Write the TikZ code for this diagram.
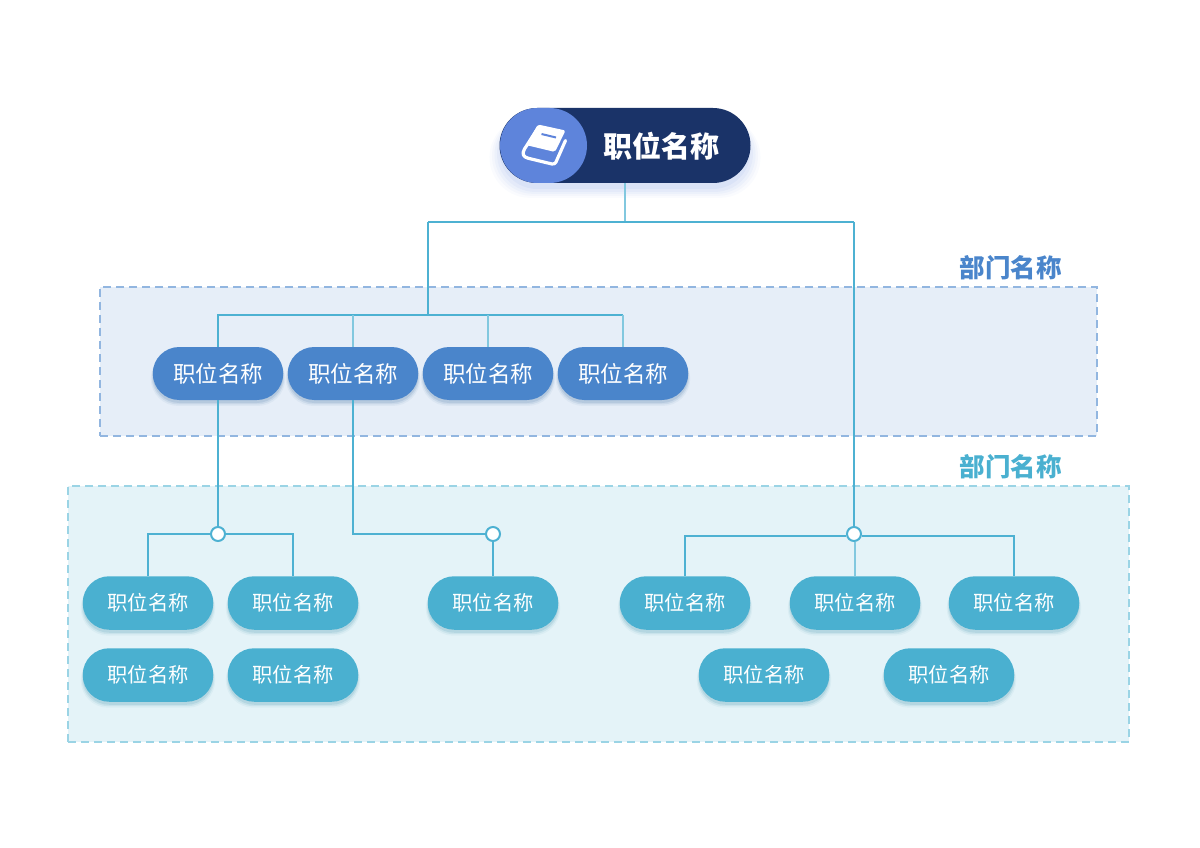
\documentclass[tikz,border=0pt]{standalone}
\usepackage{fontspec}
\setmainfont{Noto Sans CJK SC}
\usetikzlibrary{positioning,shadows}

\definecolor{navy}{HTML}{1A3368}
\definecolor{badgeblue}{HTML}{5E84DB}
\definecolor{deptblue}{HTML}{4A85CB}
\definecolor{staffblue}{HTML}{4AB0D0}
\definecolor{linkblue}{HTML}{4DB1D2}

\tikzset{
  softshadow/.style={
    general shadow={fill=#1,opacity=.03,shadow scale=1.08,shadow yshift=-11pt},
    general shadow={fill=#1,opacity=.04,shadow scale=1.06,shadow yshift=-10pt},
    general shadow={fill=#1,opacity=.05,shadow scale=1.04,shadow yshift=-9pt},
    general shadow={fill=#1,opacity=.06,shadow scale=1.02,shadow yshift=-8pt},
    general shadow={fill=#1,opacity=.07,shadow scale=1.00,shadow yshift=-6pt}},
  smallshadow/.style={
    general shadow={fill=#1,opacity=.06,shadow scale=1.03,shadow yshift=-5pt},
    general shadow={fill=#1,opacity=.10,shadow scale=1.015,shadow yshift=-4pt},
    general shadow={fill=#1,opacity=.14,shadow scale=1.00,shadow yshift=-3pt}},
  rootbox/.style={fill=navy,minimum width=251pt,minimum height=75pt,inner sep=0pt,
    rounded corners=37.5pt,softshadow=badgeblue},
  badge/.style={fill=badgeblue,minimum width=87pt,minimum height=75pt,inner sep=0pt,rounded corners=37.5pt},
  dept/.style={fill=deptblue,text=white,minimum width=130.5pt,minimum height=53pt,inner sep=0pt,
    rounded corners=26.5pt,font=\fontsize{22.5pt}{25pt}\selectfont,smallshadow=deptblue!80!black},
  staff/.style={fill=staffblue,text=white,minimum width=130.5pt,minimum height=53.5pt,inner sep=0pt,
    rounded corners=26.5pt,font=\fontsize{20.3pt}{22pt}\selectfont,smallshadow=staffblue!80!black},
  zone/.style={dashed,dash pattern=on 8pt off 5pt,line width=1.8pt,inner sep=0pt},
  zonetitle/.style={font=\fontsize{25.5pt}{27pt}\selectfont\bfseries},
  link/.style={draw=linkblue,line width=1.2pt},
  stem/.style={draw=linkblue!70,line width=1.2pt},
  joint/.style={circle,draw=linkblue,fill=white,line width=2pt,minimum size=14pt,inner sep=0pt}
}

\begin{document}
\begin{tikzpicture}[x=1pt,y=-1pt,on grid]
   \useasboundingbox (0,0) rectangle (1200,848);

   % zones
   \node[zone,draw=deptblue!60,fill=deptblue!14,minimum width=997pt,minimum height=149pt] (zone_1) at (598.5,361.5) {};
   \node[zone,draw=staffblue!55,fill=staffblue!15,minimum width=1061pt,minimum height=256pt] (zone_2) at (598.5,614) {};
   \node[zonetitle,text=deptblue] (title_1) at (1010.5,268) {部门名称};
   \node[zonetitle,text=staffblue] (title_2) at (1010.5,467) {部门名称};

   \coordinate (bus_l) at (428,222);
   \coordinate (bus_r) at (854,222);
   \coordinate (bus_d) at (428,315);

   % top
   \node[rootbox] (root) at (625,145.5) {};
   \node[badge] (icon) at (543.5,145.5) {};
   \node[text=white,font=\fontsize{29pt}{31pt}\selectfont\bfseries] (root_text) at (661,146) {职位名称};

   % book
   \draw[white,line width=3.2pt,line join=round,line cap=round]
     (539,126.5) -- (524.5,149) .. controls (521.5,154) and (523.5,157) .. (528,158.2)
     -- (552,164) .. controls (554,164.4) and (555,163.5) .. (556,162) -- (565.5,140.5);
   \fill[white,rounded corners=2pt] (538,124.5) -- (565.5,130.5) -- (555,152) -- (526,145) -- cycle;
   \draw[badgeblue,line width=2pt] (541.5,134) -- (556,137.5);

   % dept row
   \node[dept] (d_1) at (218,373.5) {职位名称};
   \node[dept] (d_2) [right=135pt of d_1] {职位名称};
   \node[dept] (d_3) [right=135pt of d_2] {职位名称};
   \node[dept] (d_4) [right=135pt of d_3] {职位名称};

   % staff rows
   \node[staff] (s_1) at (148,603) {职位名称};
   \node[staff] (s_2) [right=145pt of s_1] {职位名称};
   \node[staff] (s_3) [below=72pt of s_1] {职位名称};
   \node[staff] (s_4) [below=72pt of s_2] {职位名称};
   \node[staff] (s_5) at (493,603) {职位名称};
   \node[staff] (s_6) at (685,603) {职位名称};
   \node[staff] (s_7) [right=170pt of s_6] {职位名称};
   \node[staff] (s_8) [right=159pt of s_7] {职位名称};
   \node[staff] (s_9) at (764,675) {职位名称};
   \node[staff] (s_10) [right=185pt of s_9] {职位名称};

   % joints
   \node[joint] (j_1) at (218,534) {};
   \node[joint] (j_2) at (493,534) {};
   \node[joint] (j_3) at (854,534) {};

   \draw[stem] (root.south) -- (root.south |- bus_l);
   \draw[link] (bus_l) -- (bus_r);
   \draw[link] (bus_l) -- (bus_d);
   \draw[link] (bus_r) -- (j_3.north);
   \draw[link] (d_1.north) |- (d_4.north |- bus_d);
   \draw[stem] (d_4.north |- bus_d) -- (d_4.north);
   \draw[stem] (d_2.north) -- (d_2.north |- bus_d);
   \draw[stem] (d_3.north) -- (d_3.north |- bus_d);

   \draw[link] (d_1.south) -- (j_1.north);
   \draw[link] (j_1.west) -| (s_1.north);
   \draw[link] (j_1.east) -| (s_2.north);
   \draw[link] (d_2.south) |- (j_2.west);
   \draw[link] (j_2.south) -- (s_5.north);
   \draw[link] (j_3.west) ++(0,2) -| (s_6.north);
   \draw[link] (j_3.east) ++(0,2) -| (s_8.north);
   \draw[stem] (s_7.north) -- (s_7.north |- j_3.south);
\end{tikzpicture}
\end{document}
